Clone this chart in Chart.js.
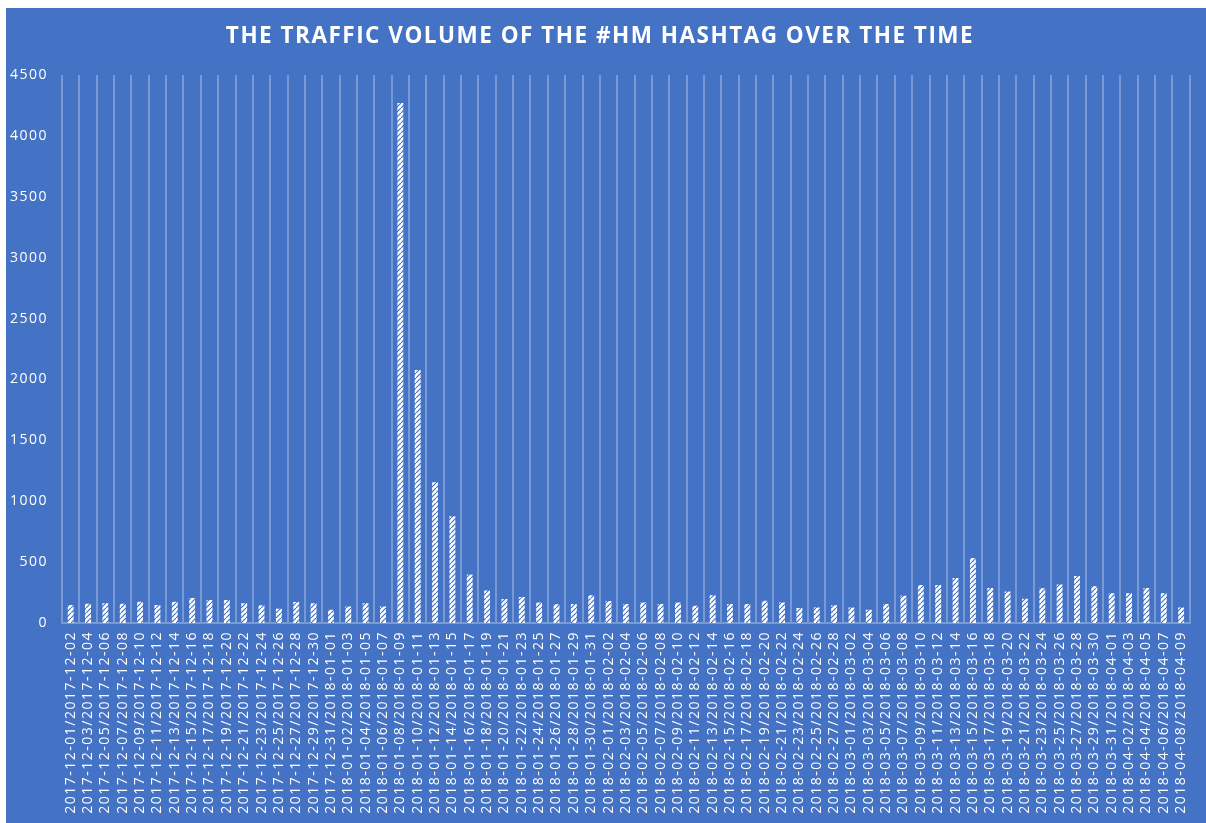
<!DOCTYPE html>
<html>
<head>
<meta charset="utf-8">
<script src="https://cdn.jsdelivr.net/npm/chart.js@4.4.1/dist/chart.umd.min.js"></script>
<style>
  html, body { margin: 0; padding: 0; background: #ffffff; }
  #wrap { position: absolute; left: 6px; top: 8px; width: 1200px; height: 815px; background: #4472c4; }
</style>
</head>
<body>
<div id="wrap"><canvas id="chart" width="1200" height="815"></canvas></div>
<script>
// two-day windows, Dec 2017 - Apr 2018
const periods = [
  "2017-12-01/2017-12-02", "2017-12-03/2017-12-04", "2017-12-05/2017-12-06", "2017-12-07/2017-12-08",
  "2017-12-09/2017-12-10", "2017-12-11/2017-12-12", "2017-12-13/2017-12-14", "2017-12-15/2017-12-16",
  "2017-12-17/2017-12-18", "2017-12-19/2017-12-20", "2017-12-21/2017-12-22", "2017-12-23/2017-12-24",
  "2017-12-25/2017-12-26", "2017-12-27/2017-12-28", "2017-12-29/2017-12-30", "2017-12-31/2018-01-01",
  "2018-01-02/2018-01-03", "2018-01-04/2018-01-05", "2018-01-06/2018-01-07", "2018-01-08/2018-01-09",
  "2018-01-10/2018-01-11", "2018-01-12/2018-01-13", "2018-01-14/2018-01-15", "2018-01-16/2018-01-17",
  "2018-01-18/2018-01-19", "2018-01-20/2018-01-21", "2018-01-22/2018-01-23", "2018-01-24/2018-01-25",
  "2018-01-26/2018-01-27", "2018-01-28/2018-01-29", "2018-01-30/2018-01-31", "2018-02-01/2018-02-02",
  "2018-02-03/2018-02-04", "2018-02-05/2018-02-06", "2018-02-07/2018-02-08", "2018-02-09/2018-02-10",
  "2018-02-11/2018-02-12", "2018-02-13/2018-02-14", "2018-02-15/2018-02-16", "2018-02-17/2018-02-18",
  "2018-02-19/2018-02-20", "2018-02-21/2018-02-22", "2018-02-23/2018-02-24", "2018-02-25/2018-02-26",
  "2018-02-27/2018-02-28", "2018-03-01/2018-03-02", "2018-03-03/2018-03-04", "2018-03-05/2018-03-06",
  "2018-03-07/2018-03-08", "2018-03-09/2018-03-10", "2018-03-11/2018-03-12", "2018-03-13/2018-03-14",
  "2018-03-15/2018-03-16", "2018-03-17/2018-03-18", "2018-03-19/2018-03-20", "2018-03-21/2018-03-22",
  "2018-03-23/2018-03-24", "2018-03-25/2018-03-26", "2018-03-27/2018-03-28", "2018-03-29/2018-03-30",
  "2018-03-31/2018-04-01", "2018-04-02/2018-04-03", "2018-04-04/2018-04-05", "2018-04-06/2018-04-07",
  "2018-04-08/2018-04-09"
];

const tweets = [
  148, 159, 163, 159, 175, 148, 175, 205, 189, 189, 163, 146, 118, 173, 163, 108,
  135, 163, 135, 4270, 2078, 1155, 876, 398, 267, 197, 213, 169, 153, 156, 227,
  181, 156, 169, 156, 169, 142, 227, 156, 156, 183, 169, 123, 128, 145, 128, 109,
  156, 224, 312, 312, 369, 534, 288, 258, 200, 286, 316, 385, 302, 245, 245, 288,
  245, 127
];

const yTicks = [0, 500, 1000, 1500, 2000, 2500, 3000, 3500, 4000, 4500];

const blue = "#4472c4";
const white = "#ffffff";
const gridColor = "rgba(255,255,255,0.28)";

// white bars with thin blue diagonal hatch
function hatch() {
  const c = document.createElement("canvas");
  c.width = 5; c.height = 5;
  const g = c.getContext("2d");
  g.fillStyle = white;
  g.fillRect(0, 0, 5, 5);
  g.strokeStyle = blue;
  g.lineWidth = 1.2;
  g.beginPath();
  g.moveTo(0, 5); g.lineTo(5, 0);
  g.stroke();
  return g.createPattern(c, "repeat");
}

const spacing = {
  id: "spacing",
  beforeLayout(chart) { chart.ctx.letterSpacing = "1.5px"; },
  beforeDraw(chart) { chart.ctx.letterSpacing = "1.5px"; }
};

Chart.defaults.font.family = "'Open Sans', sans-serif";
Chart.defaults.color = white;

new Chart(document.getElementById("chart"), {
  type: "bar",
  data: {
    labels: periods,
    datasets: [{
      label: "Traffic volume",
      data: tweets,
      backgroundColor: hatch(),
      borderWidth: 0,
      barPercentage: 0.34,
      categoryPercentage: 1
    }]
  },
  options: {
    responsive: false,
    animation: false,
    layout: { padding: { left: 0, right: 12, top: 0, bottom: 0 } },
    plugins: {
      legend: { display: false },
      tooltip: { enabled: false },
      title: {
        display: true,
        text: "THE TRAFFIC VOLUME OF THE #HM HASHTAG OVER THE TIME",
        color: white,
        font: { size: 22.5, weight: "bold" },
        padding: { top: 15, bottom: 25 }
      }
    },
    scales: {
      x: {
        grid: { color: gridColor, lineWidth: 2, drawTicks: false },
        border: { color: gridColor, width: 2 },
        ticks: {
          color: white,
          font: { size: 14 },
          autoSkip: false,
          minRotation: 90,
          maxRotation: 90,
          padding: 8
        },
        afterFit(scale) { scale.height = 200; }
      },
      y: {
        min: 0,
        max: 4500,
        afterBuildTicks(scale) { scale.ticks = yTicks.map(v => ({ value: v })); },
        grid: { display: false, drawTicks: false },
        border: { display: false },
        ticks: {
          color: white,
          font: { size: 14 },
          padding: 14,
          callback: v => String(v)
        },
        afterFit(scale) { scale.width = 56; }
      }
    }
  },
  plugins: [spacing]
});
</script>
</body>
</html>
